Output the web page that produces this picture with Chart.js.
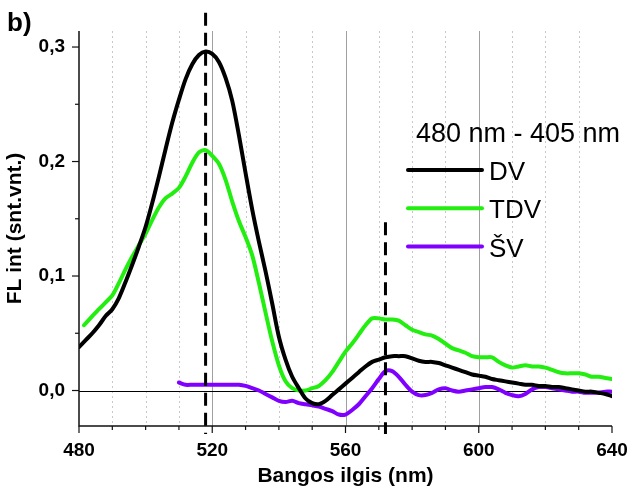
<!DOCTYPE html>
<html>
<head>
<meta charset="utf-8">
<script src="https://cdn.jsdelivr.net/npm/chart.js@4.4.0/dist/chart.umd.min.js"></script>
<style>
  html, body { margin: 0; padding: 0; background: #fff; }
  #wrap { width: 628px; height: 492px; }
</style>
</head>
<body>
<div id="wrap"><canvas id="flChart" width="628" height="492"></canvas></div>
<script>
// spectra (nm, arbitrary units)
const dvNm = [480,482,484,486,488,490,492,494,496,498,500,502,504,506,508,510,512,514,516,518,520,522,524,526,528,530,532,534,536,538,540,542,544,546,548,550,552,554,556,558,560,562,564,566,568,570,572,574,576,578,580,582,584,586,588,590,592,594,596,598,600,602,604,606,608,610,612,614,616,618,620,622,624,626,628,630,632,634,636,638,640];
const dvValues = [0.038,0.044,0.050,0.057,0.065,0.071,0.081,0.095,0.110,0.126,0.143,0.164,0.187,0.211,0.234,0.254,0.272,0.285,0.293,0.296,0.294,0.287,0.273,0.253,0.223,0.190,0.158,0.130,0.104,0.076,0.047,0.027,0.012,0.002,-0.007,-0.011,-0.012,-0.009,-0.004,0.001,0.006,0.011,0.016,0.021,0.025,0.027,0.029,0.030,0.030,0.030,0.028,0.026,0.025,0.025,0.024,0.022,0.020,0.018,0.016,0.014,0.013,0.012,0.010,0.009,0.008,0.007,0.006,0.005,0.005,0.004,0.004,0.003,0.003,0.002,0.001,0.000,-0.001,-0.001,-0.002,-0.003,-0.005];

const tdvNm = [481.5,484,486,488,490,492,494,496,498,500,502,504,506,508,510,512,514,516,518,520,522,524,526,528,530,532,534,536,538,540,542,544,546,548,550,552,554,556,558,560,562,564,566,568,570,572,574,576,578,580,582,584,586,588,590,592,594,596,598,600,602,604,606,608,610,612,614,616,618,620,622,624,626,628,630,632,634,636,638,640];
const tdvValues = [0.057,0.065,0.071,0.077,0.083,0.094,0.106,0.117,0.127,0.137,0.149,0.160,0.168,0.172,0.177,0.187,0.199,0.208,0.210,0.205,0.198,0.184,0.165,0.148,0.134,0.118,0.094,0.068,0.043,0.022,0.008,0.002,0.000,0.000,0.002,0.004,0.009,0.016,0.025,0.034,0.041,0.049,0.057,0.063,0.063,0.062,0.062,0.061,0.057,0.053,0.051,0.049,0.048,0.045,0.041,0.037,0.035,0.033,0.030,0.029,0.029,0.029,0.025,0.022,0.020,0.021,0.022,0.021,0.021,0.020,0.018,0.016,0.015,0.015,0.015,0.014,0.012,0.012,0.011,0.010];

const svNm = [510,512,514,516,518,520,522,524,526,528,530,532,534,536,538,540,542,544,546,548,550,552,554,556,558,560,562,564,566,568,570,572,574,576,578,580,582,584,586,588,590,592,594,596,598,600,602,604,606,608,610,612,614,616,618,620,622,624,626,628,630,632,634,636,638,640];
const svValues = [0.007,0.005,0.005,0.005,0.005,0.005,0.005,0.005,0.005,0.005,0.004,0.002,0.000,-0.003,-0.006,-0.009,-0.010,-0.009,-0.011,-0.012,-0.013,-0.014,-0.016,-0.018,-0.021,-0.021,-0.017,-0.012,-0.005,0.002,0.010,0.017,0.017,0.012,0.005,-0.001,-0.004,-0.004,-0.002,0.001,0.002,0.000,-0.001,0.000,0.001,0.002,0.003,0.003,0.001,-0.002,-0.004,-0.005,-0.003,0.001,0.003,0.003,0.002,0.001,0.000,-0.001,-0.001,-0.002,-0.002,-0.002,-0.001,-0.001];

const seriesLabels = ["DV", "TDV", "ŠV"];
const seriesColors = ["#000000", "#22ee10", "#8000ff"];
const legendTitle = "480 nm - 405 nm";

const xMajorTicks = [480, 520, 560, 600, 640];
const xMinorTicks = [490, 500, 510, 530, 540, 550, 570, 580, 590, 610, 620, 630];
const yMajorTicks = [0, 0.1, 0.2, 0.3];
const yMinorTicks = [0.05, 0.15, 0.25];

// dashed peak markers: wavelength, top value
const markerNm = [518, 572];
const markerTop = [0.33, 0.147];
const markerBottom = -0.038;

const FONT = "'Liberation Sans', Arial, Helvetica, sans-serif";

function toPoints(xs, ys) {
    return xs.map((x, i) => ({ x: x, y: ys[i] }));
}

const decorPlugin = {
    id: "decor",
    beforeDatasetsDraw(chart) {
        const { ctx, chartArea: a, scales: { x, y } } = chart;
        ctx.save();
        // dotted minor grid
        ctx.strokeStyle = "#c8c8c8";
        ctx.lineWidth = 1;
        ctx.setLineDash([2, 3]);
        xMinorTicks.forEach(v => {
            const px = Math.round(x.getPixelForValue(v)) + 0.5;
            ctx.beginPath();
            ctx.moveTo(px, a.top);
            ctx.lineTo(px, a.bottom);
            ctx.stroke();
        });
        // solid major grid
        ctx.setLineDash([]);
        ctx.strokeStyle = "#a0a0a0";
        xMajorTicks.slice(1, -1).forEach(v => {
            const px = Math.round(x.getPixelForValue(v)) + 0.5;
            ctx.beginPath();
            ctx.moveTo(px, a.top);
            ctx.lineTo(px, a.bottom);
            ctx.stroke();
        });
        // zero line
        const y0 = Math.round(y.getPixelForValue(0)) + 0.5;
        ctx.strokeStyle = "#000";
        ctx.beginPath();
        ctx.moveTo(a.left, y0);
        ctx.lineTo(a.right, y0);
        ctx.stroke();
        ctx.restore();
    },
    afterDatasetsDraw(chart) {
        const { ctx, chartArea: a, scales: { x, y } } = chart;
        ctx.save();
        // axes
        ctx.strokeStyle = "#111";
        ctx.lineWidth = 1.5;
        ctx.beginPath();
        ctx.moveTo(a.left, a.top);
        ctx.lineTo(a.left, a.bottom);
        ctx.lineTo(a.right, a.bottom);
        ctx.stroke();
        // tick marks, outward
        ctx.lineWidth = 1.2;
        xMajorTicks.concat(xMinorTicks).forEach(v => {
            const px = x.getPixelForValue(v);
            const len = xMajorTicks.includes(v) ? 7 : 4;
            ctx.beginPath();
            ctx.moveTo(px, a.bottom);
            ctx.lineTo(px, a.bottom + len);
            ctx.stroke();
        });
        yMajorTicks.concat(yMinorTicks).forEach(v => {
            const py = y.getPixelForValue(v);
            const len = yMajorTicks.includes(v) ? 7 : 4;
            ctx.beginPath();
            ctx.moveTo(a.left, py);
            ctx.lineTo(a.left - len, py);
            ctx.stroke();
        });
        // dashed markers
        ctx.strokeStyle = "#000";
        ctx.lineWidth = 3;
        ctx.setLineDash([13, 7]);
        markerNm.forEach((v, i) => {
            const px = x.getPixelForValue(v);
            ctx.beginPath();
            ctx.moveTo(px, y.getPixelForValue(markerTop[i]));
            ctx.lineTo(px, y.getPixelForValue(markerBottom));
            ctx.stroke();
        });
        ctx.setLineDash([]);

        // legend
        ctx.fillStyle = "#000";
        ctx.font = "27px " + FONT;
        ctx.textBaseline = "alphabetic";
        ctx.textAlign = "left";
        ctx.fillText(legendTitle, 416, 142);
        chart.data.datasets.forEach((ds, i) => {
            const ly = 170 + i * 38.3;
            ctx.strokeStyle = ds.borderColor;
            ctx.lineWidth = 4;
            ctx.lineCap = "round";
            ctx.beginPath();
            ctx.moveTo(408, ly);
            ctx.lineTo(482, ly);
            ctx.stroke();
            ctx.fillStyle = "#000";
            ctx.font = "26px " + FONT;
            ctx.fillText(ds.label, 489, ly + 10);
        });

        // panel tag
        ctx.font = "bold 26px " + FONT;
        ctx.fillText("b)", 7, 31);
        ctx.restore();
    }
};

const ctx = document.getElementById("flChart");
new Chart(ctx, {
    type: "line",
    data: {
        datasets: [
            { label: seriesLabels[0], data: toPoints(dvNm, dvValues), borderColor: seriesColors[0] },
            { label: seriesLabels[1], data: toPoints(tdvNm, tdvValues), borderColor: seriesColors[1] },
            { label: seriesLabels[2], data: toPoints(svNm, svValues), borderColor: seriesColors[2] },
        ],
    },
    options: {
        responsive: false,
        animation: false,
        events: [],
        parsing: false,
        elements: {
            point: { radius: 0 },
            line: { borderWidth: 4, tension: 0.3, fill: false, borderJoinStyle: "round", borderCapStyle: "round" },
        },
        layout: { padding: { top: 31, right: 16, left: 0, bottom: 0 } },
        plugins: {
            legend: { display: false },
            tooltip: { enabled: false },
        },
        scales: {
            x: {
                type: "linear",
                min: 480,
                max: 640,
                grid: { display: false, drawTicks: false },
                border: { display: false },
                afterBuildTicks: s => { s.ticks = xMajorTicks.map(v => ({ value: v })); },
                afterFit: s => { s.height = 66; s.paddingLeft = 0; s.paddingRight = 0; },
                ticks: {
                    color: "#000",
                    padding: 13,
                    maxRotation: 0,
                    autoSkip: false,
                    font: { family: FONT, size: 19, weight: "bold" },
                    callback: v => String(v),
                },
                title: {
                    display: true,
                    text: "Bangos ilgis (nm)",
                    color: "#000",
                    font: { family: FONT, size: 21, weight: "bold" },
                    padding: { top: 0, bottom: 3 },
                },
            },
            y: {
                type: "linear",
                min: -0.031,
                max: 0.314,
                grid: { display: false, drawTicks: false },
                border: { display: false },
                afterBuildTicks: s => { s.ticks = yMajorTicks.map(v => ({ value: v })); },
                afterFit: s => { s.width = 79; s.paddingTop = 0; s.paddingBottom = 0; },
                ticks: {
                    color: "#000",
                    padding: 14,
                    font: { family: FONT, size: 19, weight: "bold" },
                    callback: v => v.toFixed(1).replace(".", ","),
                },
                title: {
                    display: true,
                    text: "FL int (snt.vnt.)",
                    color: "#000",
                    font: { family: FONT, size: 21, weight: "bold" },
                    padding: { top: 3, bottom: 0 },
                },
            },
        },
    },
    plugins: [decorPlugin],
});
</script>
</body>
</html>
